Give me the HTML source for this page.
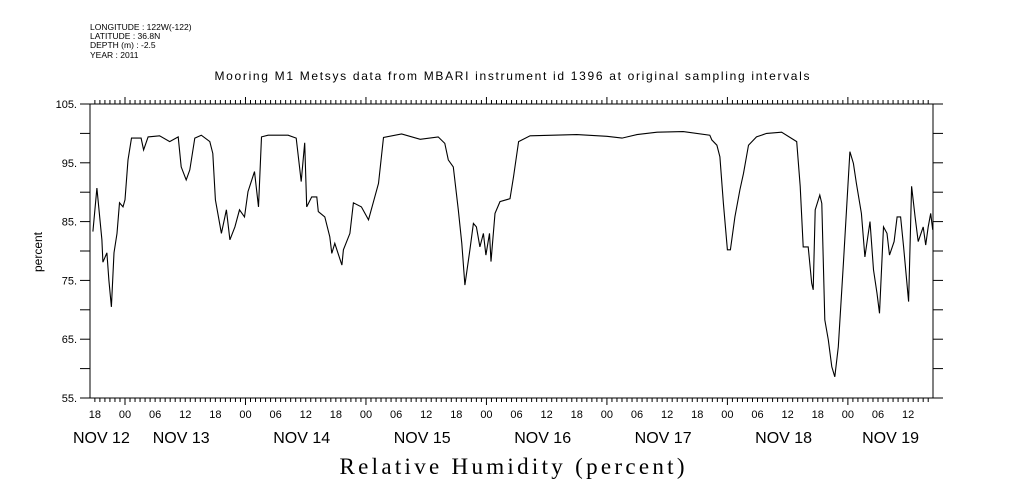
<!DOCTYPE html>
<html><head><meta charset="utf-8"><style>body{margin:0;background:#fff}svg{display:block}</style></head>
<body>
<svg id="chart" width="1009" height="504" xmlns="http://www.w3.org/2000/svg" font-family="Liberation Sans, sans-serif">
<rect width="1009" height="504" fill="#fff"/>
<g font-size="8.5" fill="#000">
<text x="90" y="30">LONGITUDE : 122W(-122)</text>
<text x="90" y="39">LATITUDE : 36.8N</text>
<text x="90" y="48">DEPTH (m) : -2.5</text>
<text x="90" y="58">YEAR : 2011</text>
</g>
<text x="512" y="80" font-size="12" text-anchor="middle" textLength="595">Mooring M1 Metsys data from MBARI instrument id 1396 at original sampling intervals</text>
<text transform="translate(42,252) rotate(-90)" font-size="12" text-anchor="middle">percent</text>
<text x="512" y="474" font-family="Liberation Serif, serif" font-size="23" text-anchor="middle" textLength="345">Relative Humidity (percent)</text>
<g id="axes"></g>
<g id="series"></g>
</svg>
<script>
const hours=[-6.4,-5.6,-4.6,-4.4,-3.6,-3.2,-2.7,-2.2,-1.6,-1.1,-0.4,0,0.6,1.3,3.2,3.7,4.6,6.9,8.9,10.6,11.2,12.2,12.9,13.9,15.2,16.9,17.5,18,19.2,20.2,20.9,21.9,22.8,23.8,24.5,25.8,26.6,27.2,28.5,32.5,34.1,35.1,35.8,36.2,37.2,38.2,38.5,39.8,40.8,41.2,41.8,43.2,43.5,44.8,45.5,47.1,48.5,49.5,50.5,51.5,55.1,58.8,62.4,63.7,64.4,65.4,66.4,67.1,67.7,68.7,69.4,70,70.7,71.4,71.9,72.6,72.9,73.7,74.7,76.7,77.4,78.4,80.7,90,96,99,102,106,111.2,116.5,116.9,117.9,118.5,119.2,120,120.6,121.5,122.5,123.2,124.2,125.8,127.8,130.8,133.8,134.5,135.1,136.1,136.8,137.1,137.5,138.4,138.8,139.4,140.1,140.8,141.4,142.1,143.1,144.4,145.1,145.7,146.7,147.4,148.4,149.1,149.8,150.3,151.1,151.8,152.3,153.2,153.8,154.5,155.1,156.1,156.7,157.4,158,159,159.5,160,160.5,160.9];
const humidity=[83.3,90.7,81.9,78.1,79.7,75,70.5,79.7,83,88.2,87.5,88.7,95.5,99.2,99.2,97.2,99.4,99.6,98.6,99.4,94.3,92.1,93.8,99.2,99.7,98.6,96.6,88.7,83,87,81.9,84.1,87,85.8,90.1,93.5,87.5,99.4,99.7,99.7,99.2,91.8,98.4,87.5,89.2,89.2,86.7,85.8,82.4,79.6,81.3,77.6,80.2,83,88.2,87.5,85.3,88.4,91.5,99.3,99.9,99,99.4,98.3,95.5,94.3,87,81.3,74.2,80.2,84.7,84.1,80.7,83,79.3,83,78.2,86.4,88.4,88.9,92.6,98.6,99.6,99.8,99.5,99.2,99.8,100.2,100.3,99.7,98.9,98,96,88.1,80.2,80.2,85.8,90.4,93.2,98,99.4,100,100.2,98.6,91,80.7,80.7,74.5,73.4,87,89.5,88.1,68.3,64.9,60.3,58.6,63.7,77.9,96.9,94.9,91.5,86.4,79,85,76.8,72.8,69.4,84.1,83,79.3,81.6,85.8,85.8,80.7,71.4,91,85.8,81.6,84.1,81,84.1,86.4,83.6];
const yTicks=[55,60,65,70,75,80,85,90,95,100,105];
const yLabels=["55.","65.","75.","85.","95.","105."];
const hourLabels=["18","00","06","12"];
const dayLabels=["NOV 12","NOV 13","NOV 14","NOV 15","NOV 16","NOV 17","NOV 18","NOV 19"];
const dayLabelHours=[-4.7,11.2,35.2,59.2,83.2,107.2,131.2,152.5];

const L=90,R=933,T=104,B=398,H0=125,PXH=5.02;
const xS=h=>H0+h*PXH, yS=v=>B-(v-55)*(B-T)/50;
const NS="http://www.w3.org/2000/svg";
const ax=document.getElementById('axes'), se=document.getElementById('series');
function mk(tag,at,parent){const e=document.createElementNS(NS,tag);for(const k in at)e.setAttribute(k,at[k]);parent.appendChild(e);return e;}
const frame=mk('rect',{x:L,y:T,width:R-L,height:B-T,fill:'none',stroke:'#000','stroke-width':1},ax);


yTicks.forEach(v=>{
  const y=yS(v);
  const t1=mk('line',{x1:L-10,x2:L,y1:y,y2:y,stroke:'#000'},ax);
  
  
  const t2=mk('line',{x1:R,x2:R+10,y1:y,y2:y,stroke:'#000'},ax);
  
  
});
yLabels.forEach((s,i)=>{
  const tx=mk('text',{x:77,y:yS(55+i*10)+4,'font-size':11,'text-anchor':'end'},ax);
  tx.textContent=s;
  
  
});
for(let h=-7;h<=161;h++){
  const x=xS(h); if(x<L||x>R)continue;
  const m=((h%24)+24)%24===0, len=m?7:4;
  const a=mk('line',{x1:x,x2:x,y1:B,y2:B+len,stroke:'#000'},ax);
  
  
  const b=mk('line',{x1:x,x2:x,y1:T-len,y2:T,stroke:'#000'},ax);
  
  
}
for(let h=-6,i=0;h<=156;h+=6,i++){
  const tx=mk('text',{x:xS(h),y:418,'font-size':11,'text-anchor':'middle'},ax);
  tx.textContent=hourLabels[i%4];
  
  
}
dayLabels.forEach((s,i)=>{
  const tx=mk('text',{x:xS(dayLabelHours[i]),y:443,'font-size':16,'text-anchor':'middle'},ax);
  tx.textContent=s;
  
  
});
const pts=hours.map((h,i)=>xS(h).toFixed(1)+','+yS(humidity[i]).toFixed(1)).join(' ');
const pl=mk('polyline',{points:pts,fill:'none',stroke:'#000','stroke-width':1.1},se);


</script>
</body></html>
